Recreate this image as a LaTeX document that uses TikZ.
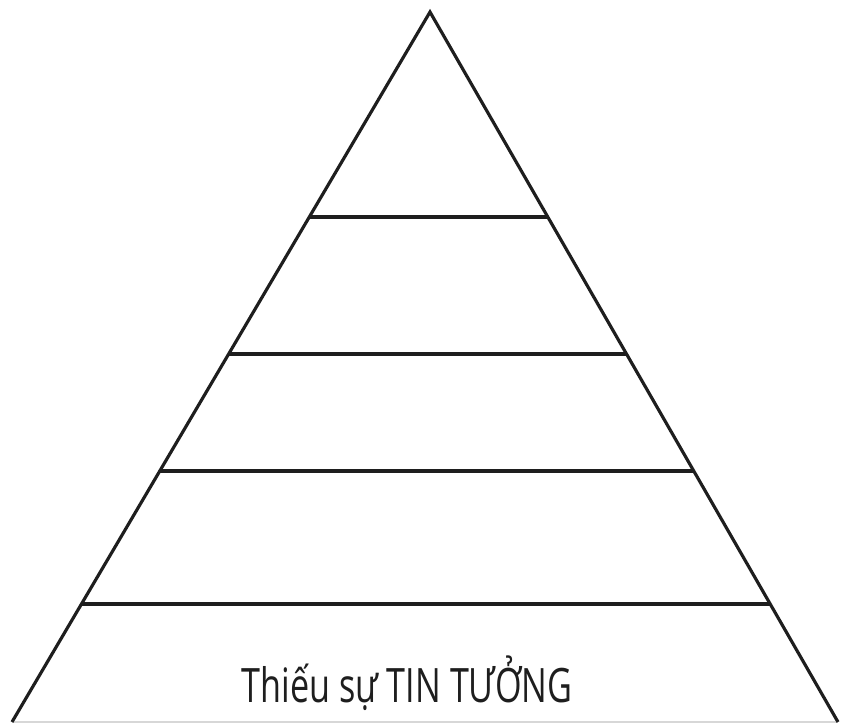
\documentclass[tikz,border=0pt]{standalone}
\usepackage{fontspec}
\setmainfont{Open Sans}
\usetikzlibrary{calc}
\definecolor{inkDark}{RGB}{30,30,30}
\definecolor{baseGrey}{RGB}{215,215,215}

\begin{document}
\begin{tikzpicture}[x=0.02cm,y=-0.02cm,
  edgeLine/.style={draw=inkDark,line width=1.8pt,line join=miter},
  tierLine/.style={draw=inkDark,line width=2pt}]
\useasboundingbox (0,0) rectangle (841,723);
\coordinate (apex) at (430,12);
\coordinate (baseL) at (12,722);
\coordinate (baseR) at (838,722);
% faint bottom edge
\draw[baseGrey,line width=0.6pt] (baseL) -- (baseR);
\draw[edgeLine] (baseL) -- (apex) -- (baseR);
% tier lines
\foreach \t [count=\i] in {0.2887,0.4817,0.6465,0.8338}{
  \coordinate (tierL\i) at ($(apex)!\t!(baseL)$);
  \coordinate (tierR\i) at ($(apex)!\t!(baseR)$);
  \draw[tierLine] (tierL\i) -- (tierR\i);
}
\node[inkDark,font=\fontsize{27}{30}\selectfont\addfontfeatures{FakeStretch=0.72},anchor=base] (bottomTier) at (407,702) {Thiếu sự TIN TƯỞNG};
\end{tikzpicture}
\end{document}
